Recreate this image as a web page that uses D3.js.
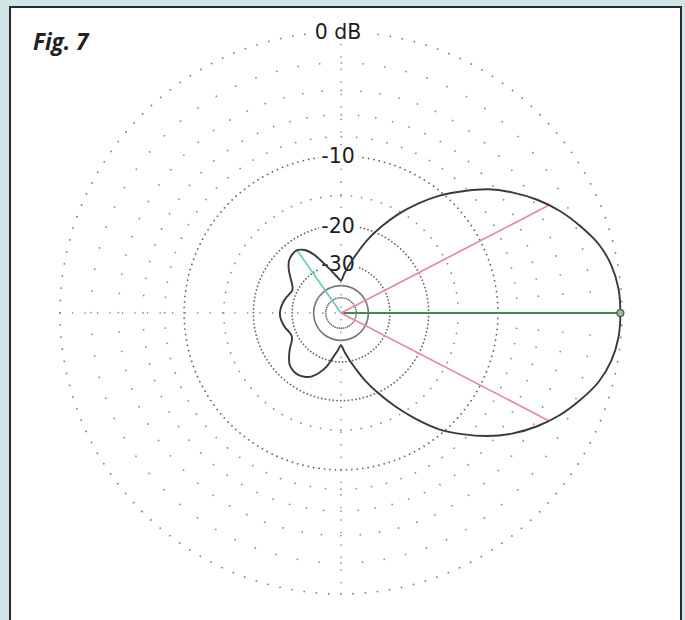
<!DOCTYPE html>
<html>
<head>
<meta charset="utf-8">
<script src="https://cdn.jsdelivr.net/npm/d3@7"></script>
<style>
  body { margin: 0; background: #d2e5e6; }
  svg { display: block; }
</style>
</head>
<body>
<div id="chart"></div>
<script>
// azimuth pattern, degrees counter-clockwise from the right
var angles = [0, 5, 10, 15, 20, 25, 30, 35, 40, 45, 50, 55, 60, 65, 70, 75, 80, 85,
    90, 95, 100, 105, 110, 115, 120, 125, 130, 135, 140, 145, 150, 155, 160, 165, 170, 175,
    180, 185, 190, 195, 200, 205, 210, 215, 220, 225, 230, 235, 240, 245, 250, 255, 260, 265,
    270, 275, 280, 285, 290, 295, 300, 305, 310, 315, 320, 325, 330, 335, 340, 345, 350, 355];
var gainDb = [-0.1, -0.15, -0.4, -0.9, -1.7, -2.6, -3.7, -5.0, -6.5, -8.4, -10.4, -12.8, -15.5, -18.6, -22.0, -26.0, -29.8, -33.5,
    -37.0, -35.5, -33.5, -31.0, -28.2, -25.2, -23.2, -22.3, -22.4, -23.0, -24.3, -26.0, -27.6, -28.4, -28.0, -27.3, -26.8, -26.4,
    -26.2, -26.3, -26.7, -27.2, -27.9, -28.2, -27.4, -25.8, -24.4, -23.2, -22.7, -22.6, -23.0, -23.8, -25.5, -27.8, -31.5, -34.5,
    -37.0, -34.0, -30.5, -27.0, -23.2, -19.8, -16.5, -13.4, -10.6, -8.5, -6.6, -5.0, -3.7, -2.6, -1.7, -0.9, -0.4, -0.15];

// grid rings (dB) and the labelled ones
var ringDb = [0, -2, -4, -6, -8, -10, -15, -20, -30, -40, -50];
var labelDb = [0, -10, -20, -30];
var labelText = ["0 dB", "-10", "-20", "-30"];

// cursor lines: maximum, the two -3 dB points, the worst rear lobe
var cursorAngle = [0, 27.4, 332.6, 125];
var cursorDb = [-0.1, -3.15, -3.15, -22.3];
var cursorKind = ["max", "half", "half", "rear"];

var width = 685, height = 620;
var cx = 341, cy = 313, R = 281;

// ARRL log scale: every 2 dB the radius shrinks by 0.89
var arrl = function (db) { return Math.pow(0.89, -db / 2); };
var r = d3.scaleLinear().domain([0, 1]).range([0, R]);
var radius = function (db) { return r(arrl(db)); };

var svg = d3.select("#chart")
    .append("svg")
    .attr("width", width)
    .attr("height", height);

// white panel with dark frame
svg.append("rect")
    .attr("x", 10)
    .attr("y", 7)
    .attr("width", 671)
    .attr("height", 630)
    .attr("fill", "#fff")
    .attr("stroke", "#2b2b2b")
    .attr("stroke-width", 2);

var g = svg.append("g")
    .attr("transform", "translate(" + cx + "," + cy + ")");

// dot spacing on each ring, in degrees
var dotStep = { "0": 2.5, "-2": 5, "-4": 5, "-6": 5, "-8": 5, "-10": 2, "-15": 5, "-20": 2.5, "-30": 4, "-40": 2, "-50": 8 };
var dotColor = { "0": "#7d7d7d", "-10": "#666", "-20": "#666", "-30": "#666", "-40": "#777", "-50": "#777" };

g.selectAll(".ring")
    .data(ringDb)
    .enter()
    .append("circle")
    .attr("class", "ring")
    .attr("r", function (d) { return radius(d); })
    .attr("fill", "none")
    .attr("stroke", function (d) { return dotColor[d] || "#8e8e8e"; })
    .attr("stroke-width", 1.8)
    .attr("stroke-linecap", "round")
    .attr("stroke-dasharray", function (d) {
        var period = 2 * Math.PI * radius(d) * dotStep[d] / 360;
        return "0.01 " + (period - 0.01);
    });

// dotted axes through the centre
[[-R, 0, R, 0], [0, -R, 0, R]].forEach(function (p) {
    g.append("line")
        .attr("x1", p[0]).attr("y1", p[1])
        .attr("x2", p[2]).attr("y2", p[3])
        .attr("stroke", "#6f6f6f")
        .attr("stroke-width", 1.5)
        .attr("stroke-linecap", "round")
        .attr("stroke-dasharray", "0.01 12.5");
});

// ring labels with a white patch behind
var labels = g.selectAll(".lbl")
    .data(labelDb)
    .enter()
    .append("g")
    .attr("class", "lbl")
    .attr("transform", function (d) { return "translate(-3," + (-radius(d)) + ")"; });

labels.append("rect")
    .attr("x", function (d, i) { return i == 0 ? -27 : -19; })
    .attr("y", -10)
    .attr("width", function (d, i) { return i == 0 ? 56 : 39; })
    .attr("height", 19)
    .attr("fill", "#fff");

labels.append("text")
    .attr("text-anchor", "middle")
    .attr("dy", "0.36em")
    .attr("font-family", "'DejaVu Sans', Verdana, sans-serif")
    .attr("font-size", 20.5)
    .attr("fill", "#1e1e1e")
    .text(function (d, i) { return labelText[i]; });

// cursor lines
var cursorColor = { max: "#3e8c4e", half: "#e58aa2", rear: "#6cc9c4" };
var toRad = Math.PI / 180;

g.selectAll(".cursor")
    .data(cursorAngle)
    .enter()
    .append("line")
    .attr("class", "cursor")
    .attr("x1", 0).attr("y1", 0)
    .attr("x2", function (d, i) { return radius(cursorDb[i]) * Math.cos(d * toRad); })
    .attr("y2", function (d, i) { return -radius(cursorDb[i]) * Math.sin(d * toRad); })
    .attr("stroke", function (d, i) { return cursorColor[cursorKind[i]]; })
    .attr("stroke-width", function (d, i) { return cursorKind[i] == "max" ? 2 : 1.7; });

// the pattern itself
var pattern = angles.map(function (a, i) { return { angle: a, db: gainDb[i] }; });

var patternLine = d3.lineRadial()
    .angle(function (d) { return (90 - d.angle) * toRad; })
    .radius(function (d) { return radius(d.db); })
    .curve(d3.curveCatmullRomClosed.alpha(0.5));

g.append("path")
    .datum(pattern)
    .attr("d", patternLine)
    .attr("fill", "none")
    .attr("stroke", "#3a3a3a")
    .attr("stroke-width", 1.9);

// marker on the maximum
g.append("circle")
    .attr("cx", radius(cursorDb[0]) * Math.cos(cursorAngle[0] * toRad))
    .attr("cy", -radius(cursorDb[0]) * Math.sin(cursorAngle[0] * toRad))
    .attr("r", 3.5)
    .attr("fill", "#9fb3a4")
    .attr("stroke", "#3f5a45")
    .attr("stroke-width", 1.2);

svg.append("text")
    .attr("x", 33)
    .attr("y", 50)
    .attr("font-family", "'Open Sans', sans-serif")
    .attr("font-weight", "bold")
    .attr("font-style", "italic")
    .attr("font-size", 22.5)
    .attr("fill", "#222")
    .text("Fig. 7");
</script>
</body>
</html>
